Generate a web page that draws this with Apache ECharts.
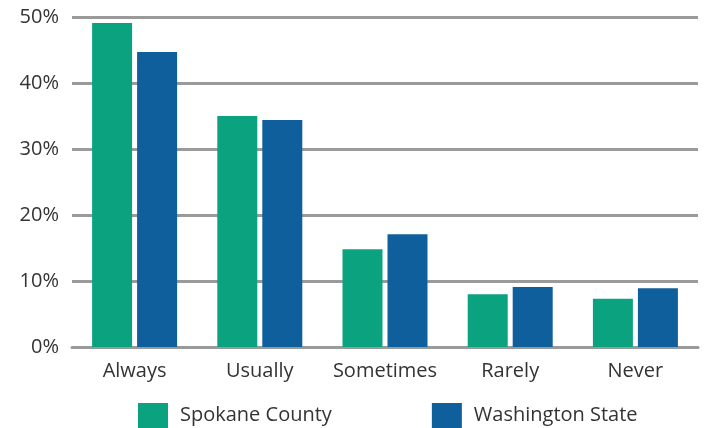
<!DOCTYPE html>
<html lang="en">
<head>
  <meta charset="UTF-8">
  <title>Frequency Chart</title>
  <script src="https://cdn.jsdelivr.net/npm/echarts@6.0.0/dist/echarts.min.js"></script>
  <style>
    html, body { margin: 0; padding: 0; background: #fff; }
    #main { width: 706px; height: 428px; }
  </style>
</head>
<body>
  <div id="main"></div>
  <script>
    // data
    const categories = ['Always', 'Usually', 'Sometimes', 'Rarely', 'Never'];
    const spokane = [49.1, 35.0, 14.8, 8.0, 7.3];
    const washington = [44.7, 34.4, 17.1, 9.1, 8.9];
    const seriesNames = ['Spokane County', 'Washington State'];

    let myChart = echarts.init(document.getElementById('main'));
    const font = '"Open Sans", "Liberation Sans", sans-serif';

    let option = {
      animation: false,
      textStyle: { fontFamily: font },
      grid: { left: 72, right: 8, top: 17, bottom: 81, containLabel: false, outerBoundsMode: 'none' },
      legend: {
        left: 138, top: 403, padding: 0,
        itemWidth: 30, itemHeight: 25, itemGap: 100,
        icon: 'rect',
        textStyle: { fontSize: 20, color: '#333', fontFamily: font, padding: [0, 0, 0, 7] },
        data: seriesNames
      },
      xAxis: {
        type: 'category',
        data: categories,
        axisLine: { show: true, lineStyle: { color: '#9a9a9a', width: 3 } },
        axisTick: { show: false },
        axisLabel: { interval: 0, fontSize: 20, color: '#333', margin: 14, fontFamily: font }
      },
      yAxis: {
        type: 'value',
        min: 0, max: 50, interval: 10,
        axisLine: { show: false },
        axisTick: { show: false },
        axisLabel: { formatter: '{value}%', fontSize: 20, color: '#333', margin: 13, fontFamily: font },
        splitLine: { lineStyle: { color: '#9a9a9a', width: 3 } }
      },
      series: [
        { name: seriesNames[0], type: 'bar', data: spokane, barWidth: 40, barGap: '12.5%', itemStyle: { color: '#0ba37f' } },
        { name: seriesNames[1], type: 'bar', data: washington, barWidth: 40, itemStyle: { color: '#0e5f9c' } }
      ]
    };
    myChart.setOption(option);
  </script>
</body>
</html>
